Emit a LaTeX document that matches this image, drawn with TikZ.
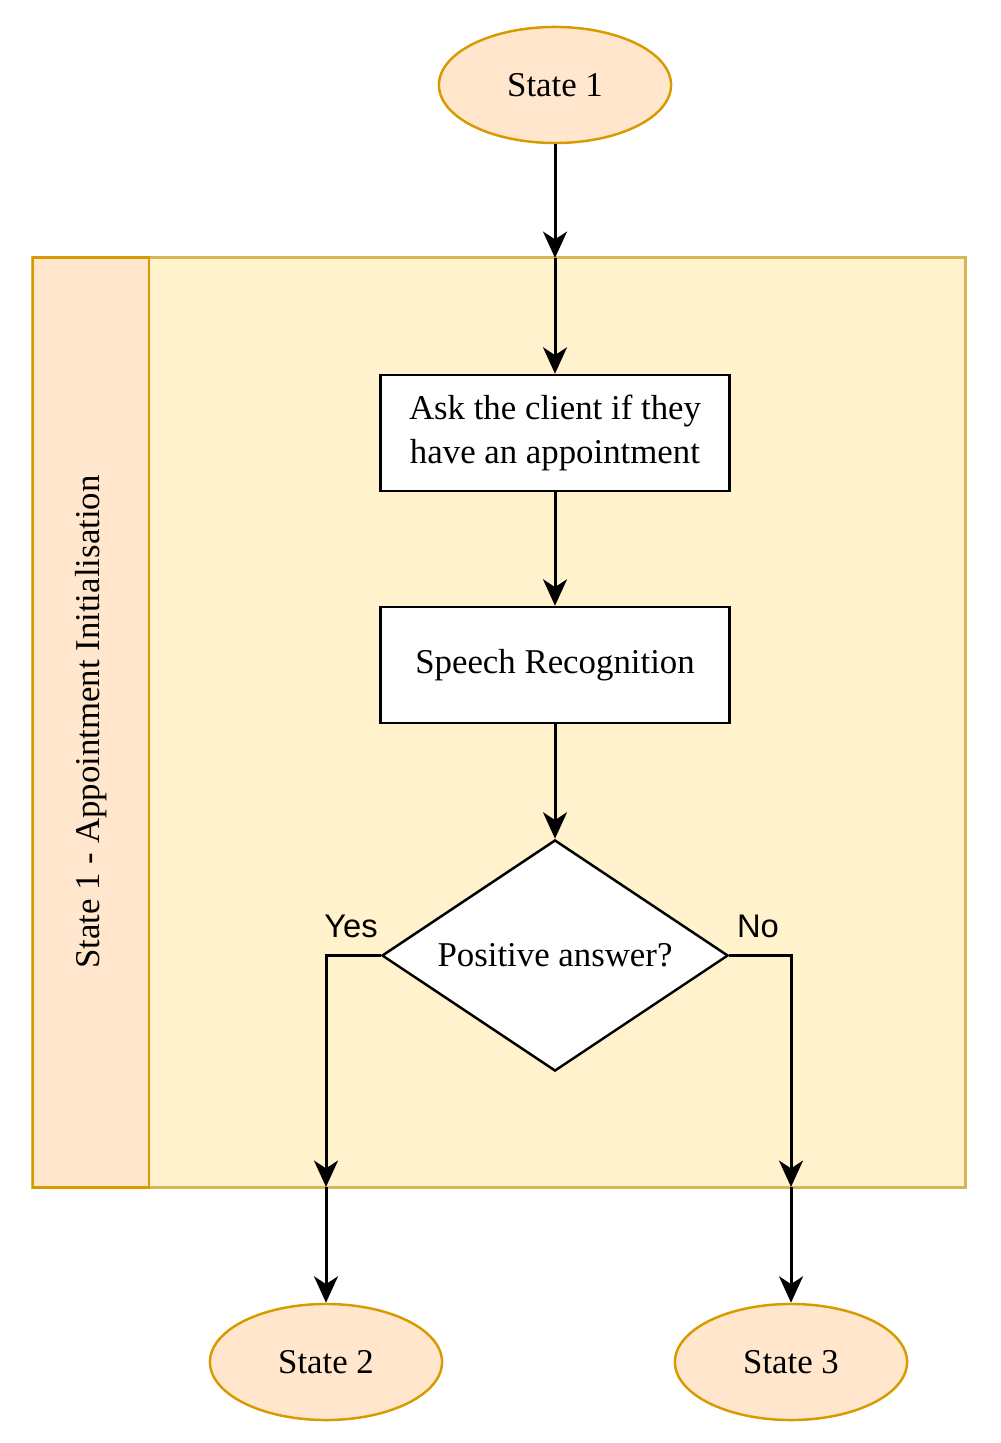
\documentclass[tikz,border=0pt]{standalone}
\usepackage{fontspec}
\setmainfont{Liberation Serif}
\newfontfamily\sansf{Liberation Sans}
\usetikzlibrary{shapes.geometric,arrows.meta}
\definecolor{laneFill}{HTML}{FFF2CC}
\definecolor{laneLine}{HTML}{D6B656}
\definecolor{hdrFill}{HTML}{FFE6CC}
\definecolor{hdrLine}{HTML}{D79B00}
\tikzset{
  txt/.style={font=\fontsize{9.9}{12.5}\selectfont},
  state/.style={ellipse, draw=hdrLine, fill=hdrFill, line width=0.7pt, minimum width=2.32cm, minimum height=1.16cm, inner sep=0pt, txt},
  procbox/.style={rectangle, draw=black, fill=white, line width=0.7pt, minimum width=3.49cm, minimum height=1.16cm, align=center, inner sep=0pt, txt},
  decision/.style={diamond, shape aspect=1.5, draw=black, fill=white, line width=0.7pt, minimum width=3.46cm, minimum height=2.31cm, inner sep=0pt, txt},
  arr/.style={-{Stealth[length=7.5pt,width=6.8pt,inset=2.2pt]}, line width=0.85pt, draw=black},
  lbl/.style={font=\sansf\fontsize{9.3}{11}\selectfont, inner sep=0pt}
}
\begin{document}
\begin{tikzpicture}[x=0.01cm,y=-0.01cm]
\useasboundingbox (0,0) rectangle (1001,1443);
% swimlane
\node[draw=laneLine, fill=laneFill, line width=0.7pt, minimum width=9.32cm, minimum height=9.29cm, inner sep=0pt] (lane) at (499,722.5) {};
\node[draw=hdrLine, fill=hdrFill, line width=0.7pt, minimum width=1.16cm, minimum height=9.29cm, inner sep=0pt] (hdr) at (91,722.5) {};
\node[txt, rotate=90] (title) at (91,722) {State 1 - Appointment Initialisation};
% nodes
\node[state] (s1) at (555,85) {State 1};
\node[procbox] (ask) at (555,433) {Ask the client if they\\have an appointment};
\node[procbox] (speech) at (555,665) {Speech Recognition};
\node[decision] (dec) at (555,955.5) {Positive answer?};
\node[state] (s2) at (326,1362) {State 2};
\node[state] (s3) at (791,1362) {State 3};
\coordinate (laneTop) at (555,258);
\coordinate (laneBotL) at (326,1187);
\coordinate (laneBotR) at (791,1187);
% connectors
\draw[arr] (s1) -- (laneTop);
\draw[arr] (laneTop) -- (ask);
\draw[arr] (ask) -- (speech);
\draw[arr] (speech) -- (dec);
\draw[arr] (dec.west) -| (laneBotL);
\draw[arr] (laneBotL) -- (s2);
\draw[arr] (dec.east) -| (laneBotR);
\draw[arr] (laneBotR) -- (s3);
% labels
\node[lbl] (yes) at (351,926) {Yes};
\node[lbl] (no) at (758,926) {No};
\end{tikzpicture}
\end{document}
